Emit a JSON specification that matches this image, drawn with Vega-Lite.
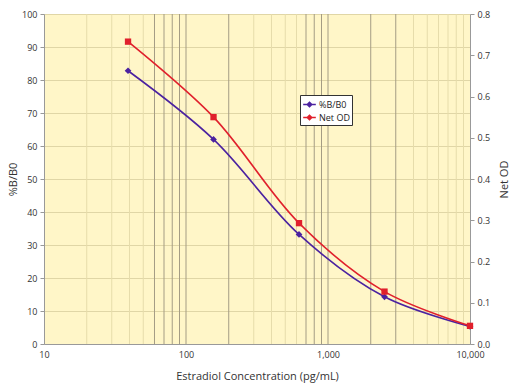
{
  "$schema": "https://vega.github.io/schema/vega-lite/v6.json",
  "width": 426,
  "height": 330,
  "autosize": {"type": "none"},
  "padding": {"left": 44, "top": 14, "right": 50, "bottom": 46},
  "background": "white",
  "config": {
    "font": "Open Sans",
    "view": {"fill": "#fff6c8", "stroke": null},
    "axis": {"labelFont": "Open Sans", "titleFont": "Open Sans", "labelColor": "#333333", "titleColor": "#333333", "labelFontSize": 9, "titleFontSize": 11, "titleFontWeight": "normal", "domainColor": "#999999", "tickColor": "#999999"}
  },
  "datasets": {
    "pts": [
      {"conc": 39.06, "series": "%B/B0", "bb0": 82.8},
      {"conc": 156.25, "series": "%B/B0", "bb0": 62.0},
      {"conc": 625, "series": "%B/B0", "bb0": 33.2},
      {"conc": 2500, "series": "%B/B0", "bb0": 14.3},
      {"conc": 10000, "series": "%B/B0", "bb0": 5.3},
      {"conc": 39.06, "series": "Net OD", "od": 0.733},
      {"conc": 156.25, "series": "Net OD", "od": 0.550},
      {"conc": 625, "series": "Net OD", "od": 0.293},
      {"conc": 2500, "series": "Net OD", "od": 0.127},
      {"conc": 10000, "series": "Net OD", "od": 0.044}
    ],
    "light": [
      {"v": 20}, {"v": 30}, {"v": 40}, {"v": 50},
      {"v": 300}, {"v": 400}, {"v": 500}, {"v": 600},
      {"v": 4000}, {"v": 5000}, {"v": 6000}, {"v": 7000}, {"v": 8000}, {"v": 9000}
    ],
    "dark": [
      {"v": 60}, {"v": 70}, {"v": 80}, {"v": 90}, {"v": 100}, {"v": 200},
      {"v": 700}, {"v": 800}, {"v": 900}, {"v": 1000}, {"v": 2000}, {"v": 3000}
    ]
  },
  "layer": [
    {
      "data": {"name": "light"},
      "mark": {"type": "rule", "color": "#e6dcaa", "strokeWidth": 1},
      "encoding": {"x": {"field": "v", "type": "quantitative", "scale": {"type": "log", "domain": [10, 10000], "nice": false}}}
    },
    {
      "data": {"name": "dark"},
      "mark": {"type": "rule", "color": "#a49c84", "strokeWidth": 1},
      "encoding": {"x": {"field": "v", "type": "quantitative", "scale": {"type": "log", "domain": [10, 10000], "nice": false}}}
    },
    {
      "data": {"name": "pts"},
      "transform": [{"filter": "datum.series === '%B/B0'"}],
      "mark": {"type": "line", "interpolate": "catmull-rom", "strokeWidth": 1.6, "point": {"shape": "diamond", "size": 45, "filled": true}},
      "encoding": {
        "x": {"field": "conc", "type": "quantitative", "scale": {"type": "log", "domain": [10, 10000], "nice": false},
          "axis": {"title": "Estradiol Concentration (pg/mL)", "values": [10, 100, 1000, 10000], "format": ",", "grid": false, "ticks": false, "labelFlush": false, "labelPadding": 6, "titlePadding": 11}},
        "y": {"field": "bb0", "type": "quantitative", "scale": {"domain": [0, 100]},
          "axis": {"title": "%B/B0", "orient": "left", "values": [0, 10, 20, 30, 40, 50, 60, 70, 80, 90, 100], "grid": true, "gridColor": "#e0d6a6", "tickSize": 4, "labelPadding": 3, "titlePadding": 3}},
        "color": {"field": "series", "type": "nominal", "scale": {"domain": ["%B/B0", "Net OD"], "range": ["#4b22a0", "#e0202c"]},
          "legend": {"title": null, "orient": "none", "legendX": 256, "legendY": 81, "direction": "vertical", "fillColor": "white", "strokeColor": "#333333", "padding": 2, "rowPadding": 0, "labelFontSize": 9, "labelFont": "Open Sans", "labelColor": "#222222", "symbolType": "M-1,0H1M-0.35,0L0,-0.35L0.35,0L0,0.35Z", "symbolSize": 160, "symbolStrokeWidth": 1.6, "labelOffset": 2}}
      }
    },
    {
      "data": {"name": "pts"},
      "transform": [{"filter": "datum.series === 'Net OD'"}],
      "mark": {"type": "line", "interpolate": "catmull-rom", "strokeWidth": 1.6, "point": {"shape": "square", "size": 40, "filled": true}},
      "encoding": {
        "x": {"field": "conc", "type": "quantitative", "scale": {"type": "log", "domain": [10, 10000], "nice": false}},
        "y": {"field": "od", "type": "quantitative", "scale": {"domain": [0, 0.8]},
          "axis": {"title": "Net OD", "orient": "right", "values": [0, 0.1, 0.2, 0.3, 0.4, 0.5, 0.6, 0.7, 0.8], "format": ".1f", "grid": false, "tickSize": 4, "labelPadding": 3, "titleAngle": -90, "titlePadding": 20}},
        "color": {"field": "series", "type": "nominal"}
      }
    }
  ],
  "resolve": {"scale": {"y": "independent"}}
}
